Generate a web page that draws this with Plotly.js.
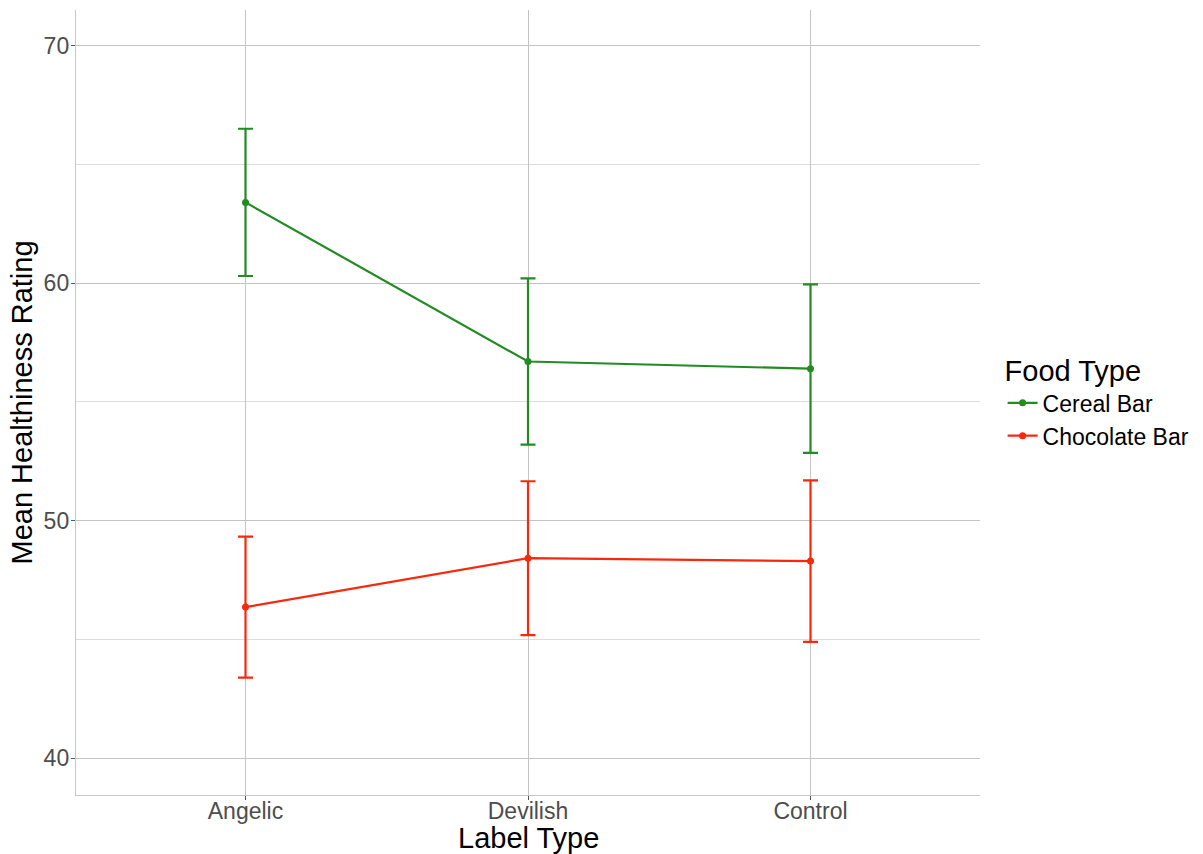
<!DOCTYPE html>
<html>
<head>
<meta charset="utf-8">
<script src="https://cdn.plot.ly/plotly-3.0.1.min.js"></script>
<style>html,body{margin:0;padding:0;background:#fff;}#chart{width:1203px;height:854px;}</style>
</head>
<body>
<div id="chart"></div>
<script>
var categories = ['Angelic', 'Devilish', 'Control'];
var cerealMeans = [63.4, 56.7, 56.4];
var cerealErrPlus = [3.1, 3.5, 3.55];
var cerealErrMinus = [3.1, 3.5, 3.55];
var chocMeans = [46.36, 48.42, 48.3];
var chocErrPlus = [2.97, 3.24, 3.4];
var chocErrMinus = [2.97, 3.24, 3.4];
var seriesNames = ['Cereal Bar', 'Chocolate Bar'];
var seriesColors = ['#228B22', '#F8280C'];
var xTitle = 'Label Type';
var yTitle = 'Mean Healthiness Rating';
var legendTitle = 'Food Type';

function makeTrace(name, y, ep, em, color) {
  return {
    type: 'scatter', mode: 'lines+markers', name: name,
    x: categories, y: y,
    line: {color: color, width: 2.2},
    marker: {color: color, size: 7},
    error_y: {type: 'data', symmetric: false, array: ep, arrayminus: em,
              color: color, thickness: 2.2, width: 7.5}
  };
}

var data = [
  makeTrace(seriesNames[0], cerealMeans, cerealErrPlus, cerealErrMinus, seriesColors[0]),
  makeTrace(seriesNames[1], chocMeans, chocErrPlus, chocErrMinus, seriesColors[1])
];

var font = 'Liberation Sans, Arial, Helvetica, sans-serif';
var layout = {
  width: 1203, height: 854,
  margin: {l: 76, r: 223, t: 10, b: 59, autoexpand: false},
  paper_bgcolor: '#fff', plot_bgcolor: '#fff',
  font: {family: font},
  showlegend: true,
  legend: {
    x: 1.025, xanchor: 'left', y: 0.575, yanchor: 'top',
    title: {text: legendTitle, font: {size: 29, color: '#000', family: font}},
    font: {size: 23, color: '#000', family: font},
    tracegroupgap: 0, itemwidth: 30
  },
  xaxis: {
    type: 'category', range: [-0.6, 2.6],
    showgrid: true, gridcolor: '#c4c4c4', gridwidth: 1,
    showline: true, linecolor: '#c8c8c8', linewidth: 1.2,
    ticks: 'outside', ticklen: 4, tickcolor: '#555', tickwidth: 1,
    ticklabelstandoff: -9,
    tickfont: {size: 23, color: '#4d4d4d', family: font},
    zeroline: false, fixedrange: true
  },
  yaxis: {
    range: [38.45, 71.5], tickvals: [40, 50, 60, 70],
    showgrid: true, gridcolor: '#c4c4c4', gridwidth: 1,
    minor: {tickvals: [45, 55, 65], showgrid: true, gridcolor: '#dcdcdc', gridwidth: 1, ticks: ''},
    showline: true, linecolor: '#c8c8c8', linewidth: 1.2,
    ticks: 'outside', ticklen: 4, tickcolor: '#555', tickwidth: 1,
    ticklabelstandoff: -3,
    tickfont: {size: 23, color: '#4d4d4d', family: font},
    title: {text: yTitle, font: {size: 29, color: '#000', family: font}, standoff: 2},
    zeroline: false, fixedrange: true
  },
  annotations: [{
    text: xTitle, xref: 'paper', yref: 'paper', x: 0.5, y: 0,
    xanchor: 'center', yanchor: 'middle', yshift: -43, showarrow: false,
    font: {size: 29, color: '#000', family: font}
  }]
};

Plotly.newPlot('chart', data, layout, {displayModeBar: false, staticPlot: true});
</script>
</body>
</html>
